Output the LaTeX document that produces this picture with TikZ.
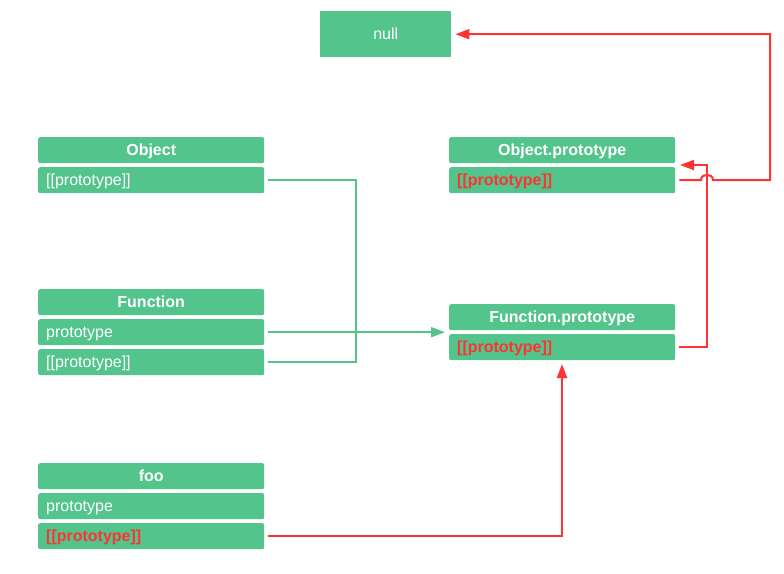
\documentclass[tikz,border=0pt]{standalone}
\usepackage{fontspec}
\setmainfont{Liberation Sans}
\usetikzlibrary{arrows.meta}
\definecolor{boxgreen}{RGB}{82,196,140}
\definecolor{linkred}{RGB}{255,51,51}
\begin{document}
\begin{tikzpicture}[x=1pt,y=-1pt,
  cell/.style={fill=boxgreen,rounded corners=2pt,anchor=north west,
    minimum width=226pt,minimum height=26pt,inner ysep=0pt,inner xsep=8pt,
    text width=210pt,text height=13pt,text depth=3pt,text=white,
    font=\fontsize{16}{18}\selectfont},
  headcell/.style={cell,align=center,font=\fontsize{16}{18}\selectfont\bfseries},
  rowcell/.style={cell,align=left},
  redcell/.style={cell,align=left,text=linkred,font=\fontsize{16}{18}\selectfont\bfseries},
  glink/.style={draw=boxgreen,line width=2pt},
  rlink/.style={draw=linkred,line width=2pt},
  tip/.style={-{Triangle[length=14pt,width=10pt]}}]
\useasboundingbox (0,0) rectangle (784,573);

% null
\node[fill=boxgreen,anchor=north west,minimum width=131pt,minimum height=46pt,
  inner sep=0pt,text=white,font=\fontsize{16}{18}\selectfont] (null) at (320,11) {null};

% Object
\node[headcell] (obj) at (38,137) {Object};
\node[rowcell] (objpp) at (38,167) {[[prototype]]};

% Function
\node[headcell] (fn) at (38,289) {Function};
\node[rowcell] (fnp) at (38,319) {prototype};
\node[rowcell] (fnpp) at (38,349) {[[prototype]]};

% foo
\node[headcell] (foo) at (38,463) {foo};
\node[rowcell] (foop) at (38,493) {prototype};
\node[redcell] (foopp) at (38,523) {[[prototype]]};

% Object.prototype
\node[headcell] (op) at (449,137) {Object.prototype};
\node[redcell] (oppp) at (449,167) {[[prototype]]};

% Function.prototype
\node[headcell] (fp) at (449,304) {Function.prototype};
\node[redcell] (fppp) at (449,334) {[[prototype]]};

% green links into Function.prototype
\coordinate (join) at (356,332);
\draw[glink] ([xshift=4pt]objpp.east) -| (join);
\draw[glink] ([xshift=4pt]fnpp.east) -| (join);
\draw[glink,tip] ([xshift=4pt]fnp.east) -- ([xshift=-4pt]fnp.east -| fp.west);

% Function.prototype.[[prototype]] -> Object.prototype
\coordinate (opin) at (680,165);
\coordinate (riser) at (707,165);
\draw[rlink,tip] ([xshift=4pt]fppp.east) -| (riser) -- (opin);

% Object.prototype.[[prototype]] -> null, hopping over the vertical link
\coordinate (hopin) at (701,180);
\coordinate (hopout) at (713,180);
\coordinate (corner) at (770,180);
\draw[rlink,tip] ([xshift=4pt]oppp.east) -- (hopin)
  .. controls (701,173) and (713,173) .. (hopout)
  -- (corner) |- ([xshift=4pt]null.east);

% foo.[[prototype]] -> Function.prototype
\coordinate (fpin) at (562,364);
\draw[rlink,tip] ([xshift=4pt]foopp.east) -| (fpin);
\end{tikzpicture}
\end{document}
